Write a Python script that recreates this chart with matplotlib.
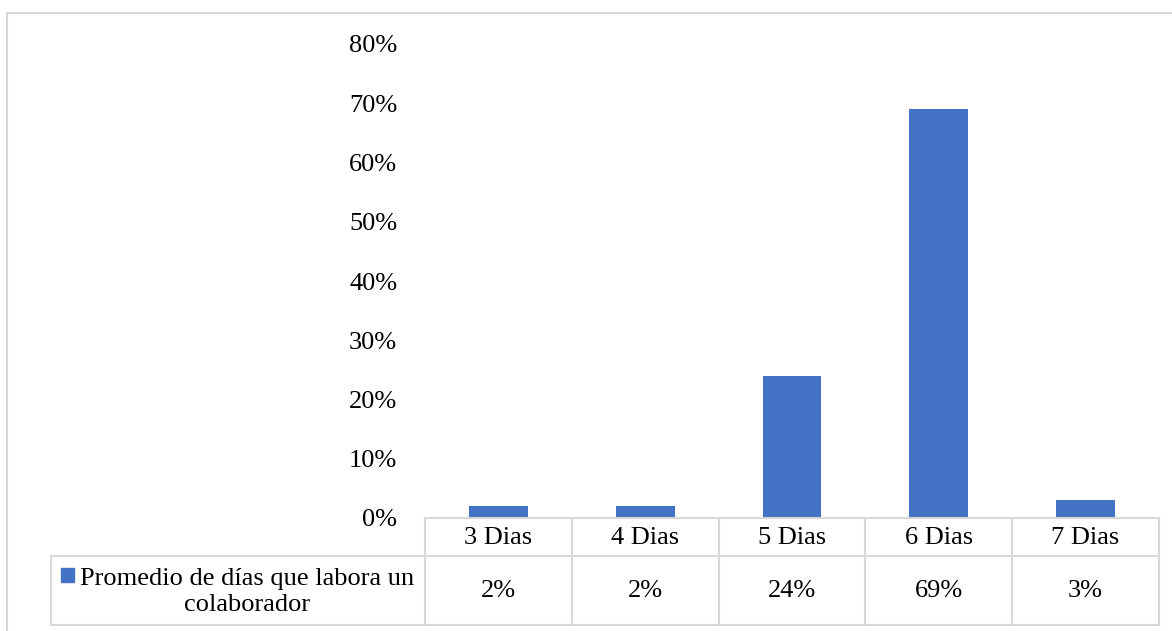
import matplotlib.pyplot as plt
from matplotlib.lines import Line2D
from matplotlib.patches import Rectangle

plt.rcParams['font.family'] = ['Liberation Serif', 'DejaVu Serif']

categories = ['3 Dias', '4 Dias', '5 Dias', '6 Dias', '7 Dias']
values = [0.02, 0.02, 0.24, 0.69, 0.03]
value_labels = ['2%', '2%', '24%', '69%', '3%']
series_name = 'Promedio de días que labora un\ncolaborador'

W, H = 1172, 631
bar_color = '#4472C4'
grid_color = '#d9d9d9'
fs = 19

fig = plt.figure(figsize=(W / 100, H / 100), dpi=100)


def fx(px):
    return px / W


def fy(py):
    return 1 - py / H


# plot area in pixels
x0, x1 = 425, 1159
y_zero, y_top = 518, 44
ax = fig.add_axes([fx(x0), fy(y_zero), fx(x1 - x0), fy(y_top) - fy(y_zero)])
ax.bar(range(len(categories)), values, width=0.4, color=bar_color)
ax.set_xlim(-0.5, len(categories) - 0.5)
ax.set_ylim(0, 0.8)
ax.set_yticks([i / 10 for i in range(9)])
ax.set_yticklabels(['%d%%' % (i * 10) for i in range(9)], fontsize=fs)
ax.tick_params(axis='y', length=0, pad=20)
ax.set_xticks([])
for s in ax.spines.values():
    s.set_visible(False)

# outer chart border
fig.add_artist(Rectangle((fx(7), fy(640)), fx(1180), fy(13) - fy(640),
                         fill=False, edgecolor=grid_color, lw=1.5,
                         transform=fig.transFigure))

# data table
col_w = (x1 - x0) / len(categories)
row0, row1, row2 = 518, 556, 625
leg_x = 51


def hline(xa, xb, yy):
    fig.add_artist(Line2D([fx(xa), fx(xb)], [fy(yy), fy(yy)], color=grid_color, lw=1.5))


def vline(xx, ya, yb):
    fig.add_artist(Line2D([fx(xx), fx(xx)], [fy(ya), fy(yb)], color=grid_color, lw=1.5))


hline(x0, x1, row0)
hline(leg_x, x1, row1)
hline(leg_x, x1, row2)
vline(leg_x, row1, row2)
for i in range(len(categories) + 1):
    vline(x0 + i * col_w, row0, row2)

for i, (cat, lab) in enumerate(zip(categories, value_labels)):
    cx = x0 + (i + 0.5) * col_w
    fig.text(fx(cx), fy(538), cat, ha='center', va='center', fontsize=fs)
    fig.text(fx(cx), fy(591), lab, ha='center', va='center', fontsize=fs)

# legend key + series name
fig.add_artist(Rectangle((fx(61), fy(582)), fx(13), fy(568) - fy(582),
                         color=bar_color, transform=fig.transFigure))
fig.text(fx(247), fy(592), series_name, ha='center', va='center',
         fontsize=fs, linespacing=1.28)

fig.savefig('out.png', dpi=100)
